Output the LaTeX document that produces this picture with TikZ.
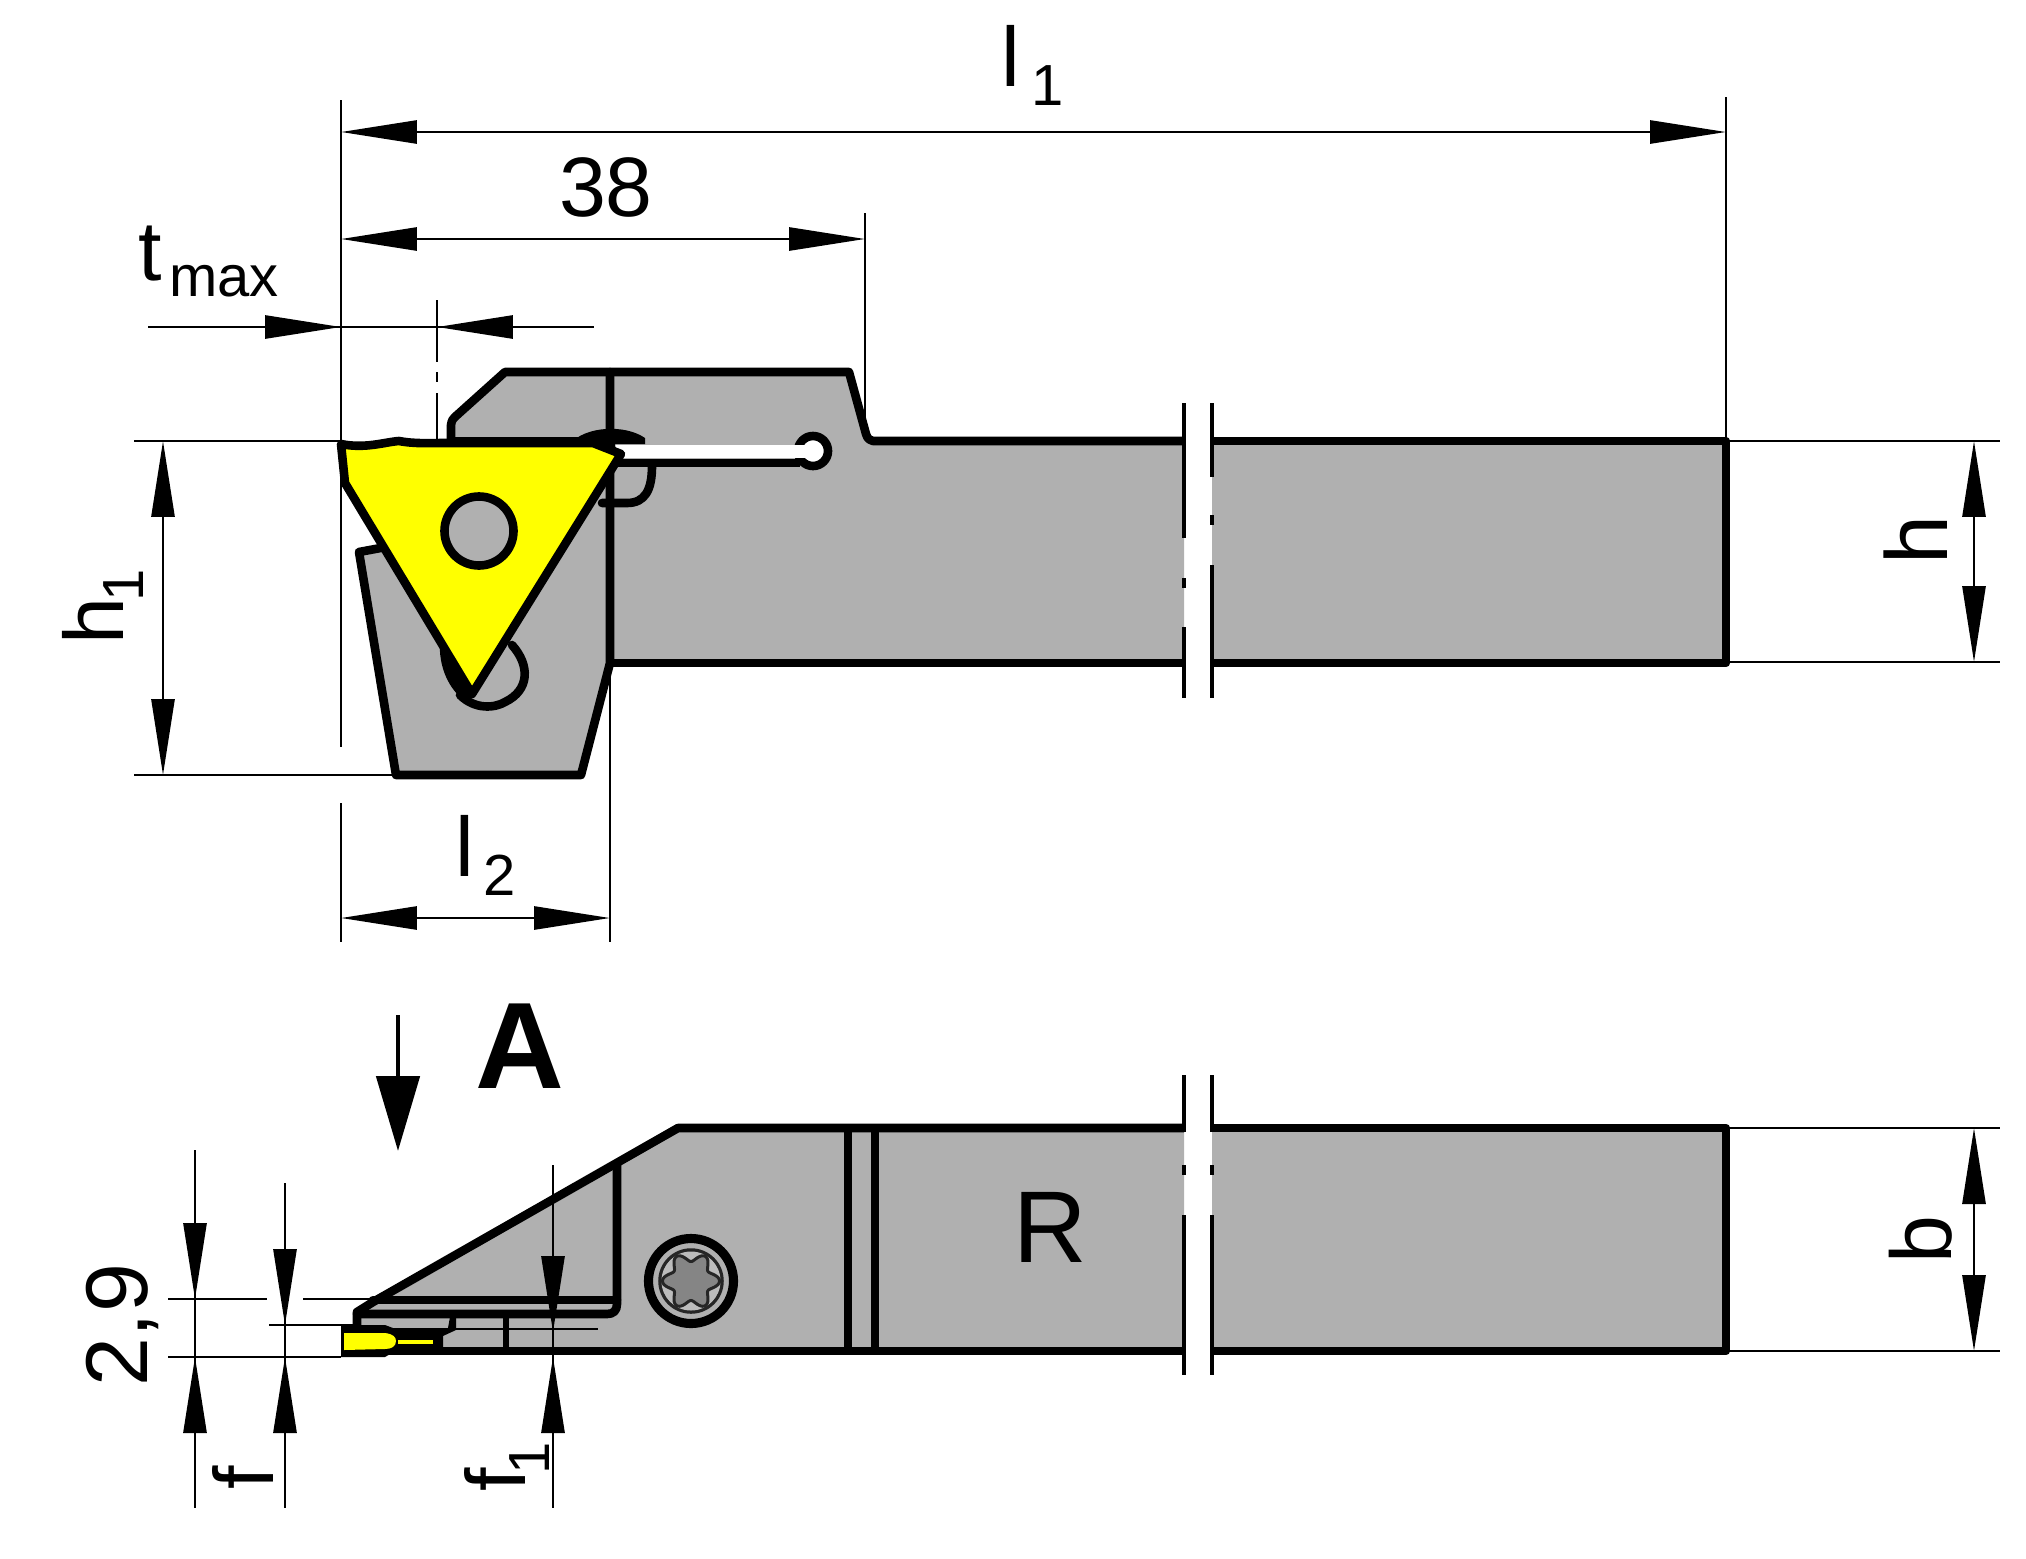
\documentclass[tikz,border=0pt]{standalone}
\usepackage{fontspec}
\setmainfont{Liberation Sans}
\usetikzlibrary{arrows.meta}
\definecolor{steel}{HTML}{B0B0B0}
\definecolor{insert}{HTML}{FFFF00}
\definecolor{torx}{HTML}{858585}
\tikzset{
  thickline/.style={line width=4.9pt,line join=round,line cap=round,black},
  railline/.style={line width=4.9pt,line join=round,line cap=butt,black},
  midline/.style={line width=3.2pt,line join=round,black},
  thinline/.style={line width=1.6pt,black},
  breakline/.style={line width=2.2pt,black},
  dimhead/.style={-{Triangle[length=1.52cm,width=.46cm]},thinline},
  dimboth/.style={{Triangle[length=1.52cm,width=.46cm]}-{Triangle[length=1.52cm,width=.46cm]},thinline},
  lab/.style={inner sep=0pt,font=\fontsize{48}{50}\selectfont},
  sub/.style={inner sep=0pt,font=\fontsize{33}{36}\selectfont},
}
\begin{document}
\begin{tikzpicture}[x=0.02cm,y=-0.02cm]
\useasboundingbox (0,0) rectangle (2026,1559);
\fill[white] (0,0) rectangle (2026,1559);

% ---------- upper view: gray bodies
\fill[steel] (451,441)--(451,423)--(508,372)--(849,372)--(866,436)--(872,441)--(1184,441)--(1184,663)--(610,663)--(608,670)--(581,775)--(396,775)--(359,552)--(392,548)--(451,500)--cycle;
\fill[steel] (1212,441) rectangle (1726,663);

% dimension extension lines, upper view
\draw[thinline] (341,100)--(341,747);
\draw[thinline] (341,803)--(341,942);
\draw[thinline] (1726,97)--(1726,441);
\draw[thinline] (865,213)--(865,436);
\draw[thinline] (610,663)--(610,942);
\draw[thinline] (134,441)--(341,441);
\draw[thinline] (134,775)--(396,775);
\draw[thinline] (1726,441)--(2000,441);
\draw[thinline] (1726,662)--(2000,662);
\draw[thinline] (437,300)--(437,362);
\draw[thinline] (437,372)--(437,382);
\draw[thinline] (437,393)--(437,440);
\draw[thinline] (148,327)--(594,327);

% outline upper view
\draw[railline] (451,441)--(451,425) .. controls (452,420) .. (456,416) -- (505,372)--(849,372)--(866,434) .. controls (868,439) .. (873,441)--(1184,441);
\draw[railline] (1184,663)--(610,663);
\draw[thickline] (610,372)--(610,663)--(581,775)--(396,775)--(359,552)--(386,547);
\draw[thickline] (451,441)--(600,441);
\draw[railline] (1212,441)--(1726,441)--(1726,663)--(1212,663);

% lobe
\draw[thickline] (652,466) .. controls (652,490) and (645,503) .. (627,503) -- (602,503);
% slot with round end
\draw[thickline,line cap=butt] (612,463)--(800,463);
\draw[thickline,fill=white] (813,451) circle (15);
\fill[white] (615,444.5) rectangle (806,458);
% dome above slot
\fill[black] (570,444) .. controls (585,426) and (625,424) .. (645,438) -- (645,444) --(615,444)--(618,463)--(606,463)--(600,444)--cycle;

% notch at bottom of the insert
\draw[thickline] (512,645) .. controls (530,665) and (530,690) .. (505,702) .. controls (495,708) and (475,710) .. (460,695);
\fill[black] (440,640) -- (476,692) -- (464,700) .. controls (450,690) and (438,668) .. cycle;

% insert
\draw[thickline,fill=insert] (341,444) .. controls (365,449) and (385,442) .. (399,441) .. controls (415,444) and (430,443) .. (445,443) -- (593,443) -- (621,454) -- (472,694) -- (345,483) -- cycle;
\draw[thickline,fill=steel] (479,531) circle (34.5);

% break lines, upper view
\draw[breakline] (1184,403)--(1184,538);
\draw[breakline] (1184,578)--(1184,588);
\draw[breakline] (1184,627)--(1184,698);
\draw[breakline] (1212,403)--(1212,477);
\draw[breakline] (1212,515)--(1212,525);
\draw[breakline] (1212,565)--(1212,698);

% dimensions, upper view
\draw[dimboth] (341,132)--(1726,132);
\draw[dimboth] (341,239)--(865,239);
\draw[dimhead] (265,327)--(341,327);
\draw[dimhead] (513,327)--(437,327);
\draw[dimboth] (163,441)--(163,775);
\draw[dimboth] (1974,441)--(1974,662);
\draw[dimboth] (341,918)--(610,918);

\node[lab] (lone) at (1011,56) {l};
\node[sub] (lonesub) at (1048,86) {1};
\node[lab,font=\fontsize{48}{52}\selectfont] (thirtyeight) at (606,187) {38};
\node[lab] (tsym) at (150,254) {t};
\node[sub] (tmaxsub) at (224,281) {max};
\node[lab,rotate=90] (hone) at (93,621) {h};
\node[sub,rotate=90] (honesub) at (124,585) {1};
\node[lab] (ltwo) at (465,846) {l};
\node[sub] (ltwosub) at (500,875) {2};
\node[lab,rotate=90,font=\fontsize{50}{52}\selectfont] (hsym) at (1916,540) {h};

% ---------- lower view
\node[inner sep=0pt,font=\bfseries\fontsize{70}{72}\selectfont] (Alabel) at (520,1046) {A};
\draw[line width=2.8pt,-{Triangle[length=1.5cm,width=.86cm]}] (398,1015)--(398,1151);

\fill[steel] (675,1128)--(1184,1128)--(1184,1351)--(385,1351)--(357,1325)--(357,1312)--(373,1302)--cycle;
\fill[steel] (1212,1128) rectangle (1726,1351);

% extension lines, lower view
\draw[thinline] (168,1299)--(267,1299);
\draw[thinline] (303,1299)--(375,1299);
\draw[thinline] (269,1325)--(357,1325);
\draw[thinline] (168,1357)--(341,1357);
\draw[thinline] (1726,1128)--(2000,1128);
\draw[thinline] (1726,1351)--(2000,1351);

% outlines, lower view
\draw[railline] (1184,1128)--(678,1128)--(373,1302)--(357,1312)--(357,1325);
\draw[railline] (385,1351)--(1184,1351);
\draw[railline] (1212,1128)--(1726,1128)--(1726,1351)--(1212,1351);
\draw[thickline] (373,1300)--(617,1300);
\draw[thickline] (617,1165)--(617,1304) .. controls (617,1311) and (613,1314) .. (607,1314) -- (357,1314);
\draw[railline] (848,1128)--(848,1351);
\draw[railline] (875,1128)--(875,1351);
\draw[midline] (506,1318)--(506,1350);
\draw[thinline] (455,1329)--(598,1329);

% insert seen from above
\fill[black] (341,1325)--(385,1325)--(393,1328)--(448,1328)--(450,1317)--(456,1317)--(456,1330)--(443,1336)--(443,1350)--(392,1353)--(385,1357)--(341,1357)--cycle;
\fill[insert] (344,1333)--(385,1333) .. controls (393,1334) and (396,1337) .. (396,1341) .. controls (396,1346) and (392,1349) .. (385,1349) -- (344,1350) -- cycle;
\fill[insert] (398,1340) rectangle (433,1344);

% screw
\draw[line width=5.2pt,black,fill=steel] (691,1281) circle (42.5);
\draw[line width=2pt,black!85] (691,1281) circle (31);
\fill[steel!85] (691,1281) circle (29.5);
\draw[line width=1.7pt,black!85,fill=torx] plot[domain=0:360,samples=121] ({691+(24+4.5*cos(6*\x))*cos(\x)},{1281+(24+4.5*cos(6*\x))*sin(\x)}) -- cycle;

% break lines, lower view
\draw[breakline] (1184,1075)--(1184,1132);
\draw[breakline] (1184,1165)--(1184,1175);
\draw[breakline] (1184,1215)--(1184,1375);
\draw[breakline] (1212,1075)--(1212,1132);
\draw[breakline] (1212,1165)--(1212,1175);
\draw[breakline] (1212,1215)--(1212,1375);

% dimensions, lower view
\draw[thinline] (195,1150)--(195,1508);
\draw[thinline] (285,1183)--(285,1508);
\draw[thinline] (553,1165)--(553,1508);
\draw[dimhead] (195,1220)--(195,1299);
\draw[dimhead] (195,1432)--(195,1357);
\draw[dimhead] (285,1249)--(285,1325);
\draw[dimhead] (285,1432)--(285,1357);
\draw[dimhead] (553,1256)--(553,1332);
\draw[dimhead] (553,1432)--(553,1357);
\draw[dimboth] (1974,1128)--(1974,1351);

\node[inner sep=0pt,font=\fontsize{58}{60}\selectfont] (Rlabel) at (1050,1227) {R};
\node[lab,rotate=90,font=\fontsize{50}{52}\selectfont] (twonine) at (122,1325) {2,9};
\node[lab,rotate=90,font=\fontsize{49}{52}\selectfont] (bsym) at (1921,1240) {b};
\node[lab,rotate=90] (fsym) at (243,1478) {f};
\node[lab,rotate=90] (fonesym) at (495,1480) {f};
\node[sub,rotate=90] (fonesub) at (530,1458) {1};
\end{tikzpicture}
\end{document}
